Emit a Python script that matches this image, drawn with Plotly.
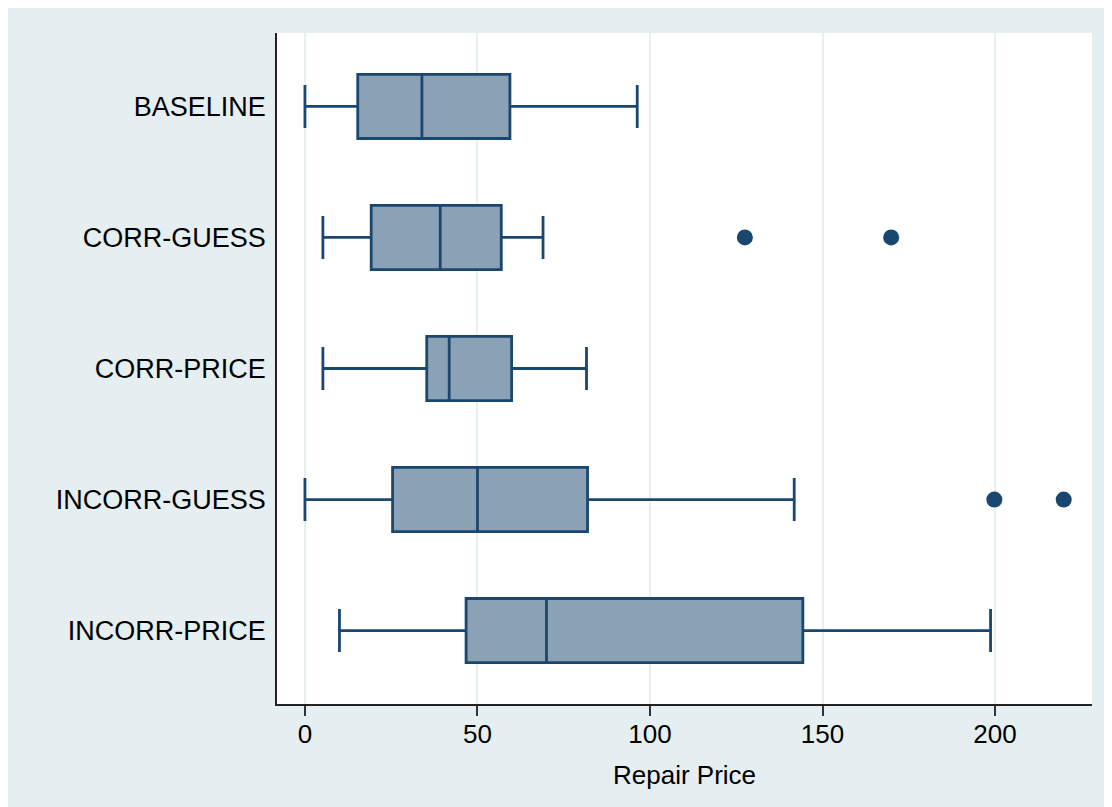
import plotly.graph_objects as go

categories = ["BASELINE", "CORR-GUESS", "CORR-PRICE", "INCORR-GUESS", "INCORR-PRICE"]
lower_whisker = [0.0, 5.2, 5.2, 0.0, 10.0]
q1_values = [15.3, 19.2, 35.3, 25.4, 46.7]
median_values = [33.9, 39.2, 41.8, 50.0, 70.0]
q3_values = [59.4, 56.9, 59.9, 81.9, 144.3]
upper_whisker = [96.3, 69.0, 81.6, 141.8, 198.7]

outlier_categories = ["CORR-GUESS", "CORR-GUESS", "INCORR-GUESS", "INCORR-GUESS"]
outlier_values = [127.5, 169.9, 199.8, 219.9]

x_ticks = [0, 50, 100, 150, 200]

NAVY = "#1a476f"
FILL = "#8ba1b6"
PAPER = "#e5eef0"

W, H = 1112, 807
ML, MR, MT, MB = 269, 28, 25, 111

fig = go.Figure()
fig.add_trace(go.Box(
    y=categories,
    q1=q1_values,
    median=median_values,
    q3=q3_values,
    lowerfence=lower_whisker,
    upperfence=upper_whisker,
    orientation="h",
    fillcolor=FILL,
    line=dict(color=NAVY, width=2.8),
    width=0.49,
    whiskerwidth=0.67,
    boxpoints=False,
    showlegend=False,
    hoverinfo="skip",
))
fig.add_trace(go.Scatter(
    x=outlier_values,
    y=outlier_categories,
    mode="markers",
    marker=dict(color=NAVY, size=16, line=dict(width=0)),
    showlegend=False,
    hoverinfo="skip",
))

fig.update_layout(
    width=W, height=H,
    margin=dict(l=ML, r=MR, t=MT, b=MB, pad=0),
    paper_bgcolor=PAPER,
    plot_bgcolor="white",
    font=dict(family="Liberation Sans, Arial, sans-serif", color="black"),
)
fig.update_xaxes(
    range=[-8.1, 228.1],
    tickvals=x_ticks,
    ticktext=[str(v) for v in x_ticks],
    tickfont=dict(size=26),
    ticks="outside", ticklen=10, tickwidth=1.5, tickcolor="#333333",
    ticklabelstandoff=-4,
    showgrid=True, gridcolor="#e6eff1", gridwidth=2,
    zeroline=False,
    showline=True, linecolor="#222222", linewidth=1.5,
    title=dict(text="Repair Price", font=dict(size=26), standoff=18),
)
fig.update_yaxes(
    type="category",
    categoryorder="array", categoryarray=categories,
    range=[4.56, -0.56],
    tickfont=dict(size=27),
    ticks="outside", ticklen=4, tickcolor="rgba(0,0,0,0)",
    showgrid=False, zeroline=False,
    showline=True, linecolor="#222222", linewidth=1.5,
)

fig.write_html("out.html", config={"displayModeBar": False})
